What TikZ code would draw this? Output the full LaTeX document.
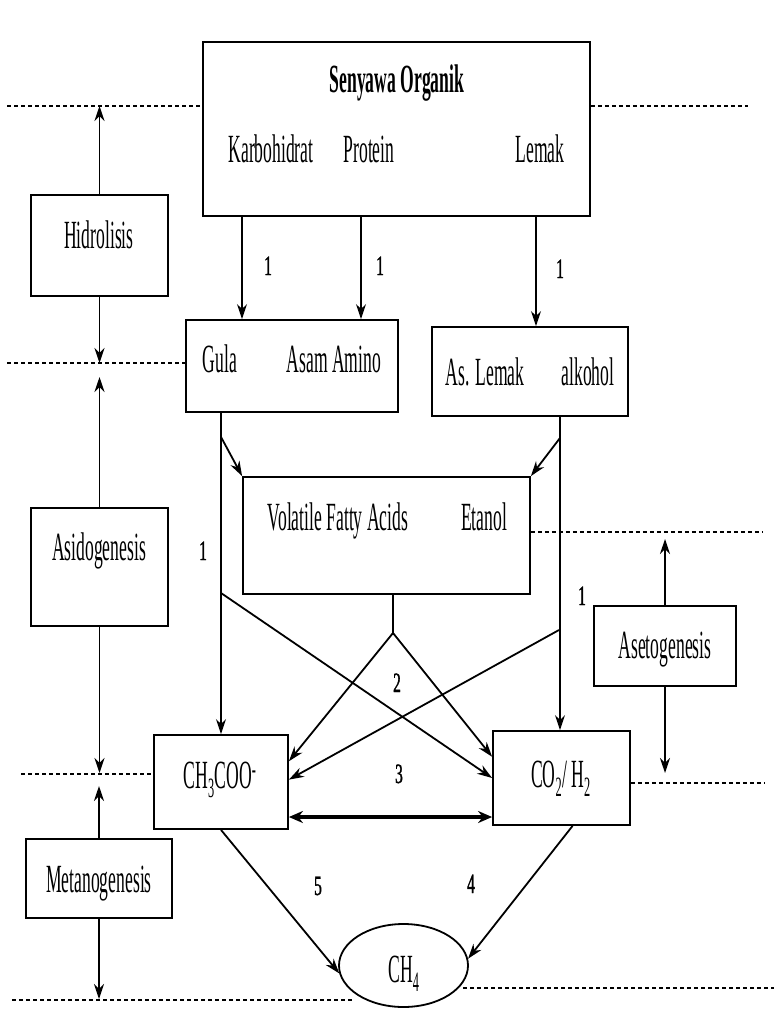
\documentclass[tikz,border=0pt]{standalone}
\usepackage{fontspec}
\setmainfont[FakeStretch=0.44]{Liberation Serif}
\newfontfamily\numfont[FakeStretch=0.55,FakeBold=1.2]{Liberation Serif}
\usetikzlibrary{arrows.meta,shapes.geometric}
\tikzset{
  box/.style={draw, line width=1.8pt, rectangle, inner sep=0pt},
  lbl/.style={font=\fontsize{40}{48}\selectfont, inner sep=0pt, anchor=base},
  lblb/.style={font=\bfseries\fontsize{40}{48}\selectfont, inner sep=0pt, anchor=base},
  num/.style={font=\numfont\fontsize{28}{32}\selectfont, inner sep=0pt, anchor=base},
  conn/.style={line width=1.8pt, -{Stealth[length=15pt,width=10pt]}},
  plain/.style={line width=1.8pt},
  dbl/.style={line width=4pt, {Stealth[length=14pt,width=12pt]}-{Stealth[length=14pt,width=12pt]}},
  dots/.style={line width=2pt, dash pattern=on 4pt off 3pt},
}
\begin{document}
\begin{tikzpicture}[x=1pt,y=-1pt]
\useasboundingbox (0,0) rectangle (774,1032);
% boxes
\node[box, minimum width=387pt, minimum height=174pt] (top) at (396.5,129) {};
\node[box, minimum width=212pt, minimum height=92pt] (gula) at (292,366) {};
\node[box, minimum width=196pt, minimum height=89pt] (lemak) at (530,371.5) {};
\node[box, minimum width=287pt, minimum height=117pt] (vfa) at (386.5,535.5) {};
\node[box, minimum width=134pt, minimum height=94pt] (ch3) at (221,782) {};
\node[box, minimum width=137pt, minimum height=94pt] (co2) at (561.5,778) {};
\node[box, minimum width=137pt, minimum height=101pt] (hid) at (99.5,245.5) {};
\node[box, minimum width=137pt, minimum height=118pt] (asid) at (99.5,567) {};
\node[box, minimum width=142pt, minimum height=80pt] (aset) at (665,646) {};
\node[box, minimum width=146pt, minimum height=79pt] (met) at (99,878.5) {};
\node[draw, ellipse, line width=1.8pt, inner sep=0pt, minimum width=129pt, minimum height=83pt] (ch4) at (403.5,965.5) {};
% texts
\node[lblb] (tso) at (397,93) {Senyawa Organik};
\node[lbl] (tkar) at (271,163) {Karbohidrat};
\node[lbl] (tpro) at (369,163) {Protein};
\node[lbl] (tlem) at (540,163) {Lemak};
\node[lbl] (tgul) at (220,372) {Gula};
\node[lbl] (tasa) at (334,372) {Asam Amino};
\node[lbl] (tasl) at (485,385) {As. Lemak};
\node[lbl] (talk) at (588,385) {alkohol};
\node[lbl] (tvfa) at (338,530) {Volatile Fatty Acids};
\node[lbl] (teta) at (484,530) {Etanol};
\node[lbl] (thid) at (99,248) {Hidrolisis};
\node[lbl] (tasi) at (99,560) {Asidogenesis};
\node[lbl] (tase) at (665,658) {Asetogenesis};
\node[lbl] (tmet) at (99,892) {Metanogenesis};
\node[lbl] (tch3) at (220,788) {CH\textsubscript{3}COO\textsuperscript{-}};
\node[lbl] (tco2) at (561,787) {CO\textsubscript{2}/ H\textsubscript{2}};
\node[lbl] (tch4) at (404,982) {CH\textsubscript{4}};
% numbers
\node[num] (n1a) at (268,275) {1};
\node[num] (n1b) at (380,275) {1};
\node[num] (n1c) at (560,278) {1};
\node[num] (n1d) at (203,560) {1};
\node[num] (n1e) at (582,605) {1};
\node[num] (n2) at (397,692) {2};
\node[num] (n3) at (399,783) {3};
\node[num] (n4) at (471,893) {4};
\node[num] (n5) at (318,895) {5};
% connectors: top box to second row
\coordinate (xk) at (242,0);
\coordinate (xp) at (361,0);
\coordinate (xl) at (536,0);
\draw[conn] (xk |- top.south) -- (xk |- gula.north);
\draw[conn] (xp |- top.south) -- (xp |- gula.north);
\draw[conn] (xl |- top.south) -- (xl |- lemak.north);
% Gula line and alkohol line
\coordinate (xg) at (221,0);
\coordinate (xa) at (560,0);
\draw[conn] (xg |- gula.south) -- (xg |- ch3.north);
\draw[conn] (xa |- lemak.south) -- (xa |- co2.north);
\coordinate (bg) at (221,437);
\coordinate (ba) at (560,438);
\draw[conn] (bg) -- (vfa.north west);
\draw[conn] (ba) -- (vfa.north east);
% VFA apex
\coordinate (apex) at (393,633);
\draw[plain] (apex |- vfa.south) -- (apex);
\draw[conn] (apex) -- (ch3.17);
\draw[conn] (apex) -- (co2.163);
% crossing lines
\coordinate (cg) at (221,593);
\coordinate (ca) at (559,630);
\draw[conn] (cg) -- (co2.west);
\draw[conn] (ca) -- (ch3.2);
% double arrow
\coordinate (dy) at (0,817);
\draw[dbl] (ch3.east |- dy) -- (co2.west |- dy);
% to CH4
\draw[conn] (ch3.south) -- (ch4.187);
\draw[conn] (co2.-77) -- (ch4.6);
% stage arrows
\coordinate (d1) at (99.5,106);
\coordinate (d2) at (99.5,363);
\coordinate (u2) at (99.5,377);
\coordinate (d3) at (99.5,773);
\coordinate (u3) at (99,786);
\coordinate (d4) at (99,999);
\coordinate (u5) at (665,539);
\coordinate (d5) at (665,773);
\draw[conn] (hid.north) -- (d1);
\draw[conn] (hid.south) -- (d2);
\draw[conn] (asid.north) -- (u2);
\draw[conn] (asid.south) -- (d3);
\draw[conn] (met.north) -- (u3);
\draw[conn] (met.south) -- (d4);
\draw[conn] (aset.north) -- (u5);
\draw[conn] (aset.south) -- (d5);
% dotted level lines
\coordinate (L1) at (7,106);
\coordinate (R1) at (748,106);
\coordinate (L2) at (7,363);
\coordinate (R3) at (763,532);
\coordinate (L4) at (21,774);
\coordinate (R4) at (765,783);
\coordinate (L5) at (12,1000);
\coordinate (L5e) at (353,1000);
\coordinate (R5s) at (463,988);
\coordinate (R5) at (774,988);
\draw[dots] (L1) -- (L1 -| top.west);
\draw[dots] (top.east |- R1) -- (R1);
\draw[dots] (L2) -- (L2 -| gula.west);
\draw[dots] (vfa.east |- R3) -- (R3);
\draw[dots] (L4) -- (L4 -| ch3.west);
\draw[dots] (co2.east |- R4) -- (R4);
\draw[dots] (L5) -- (L5e);
\draw[dots] (R5s) -- (R5);
\end{tikzpicture}
\end{document}
